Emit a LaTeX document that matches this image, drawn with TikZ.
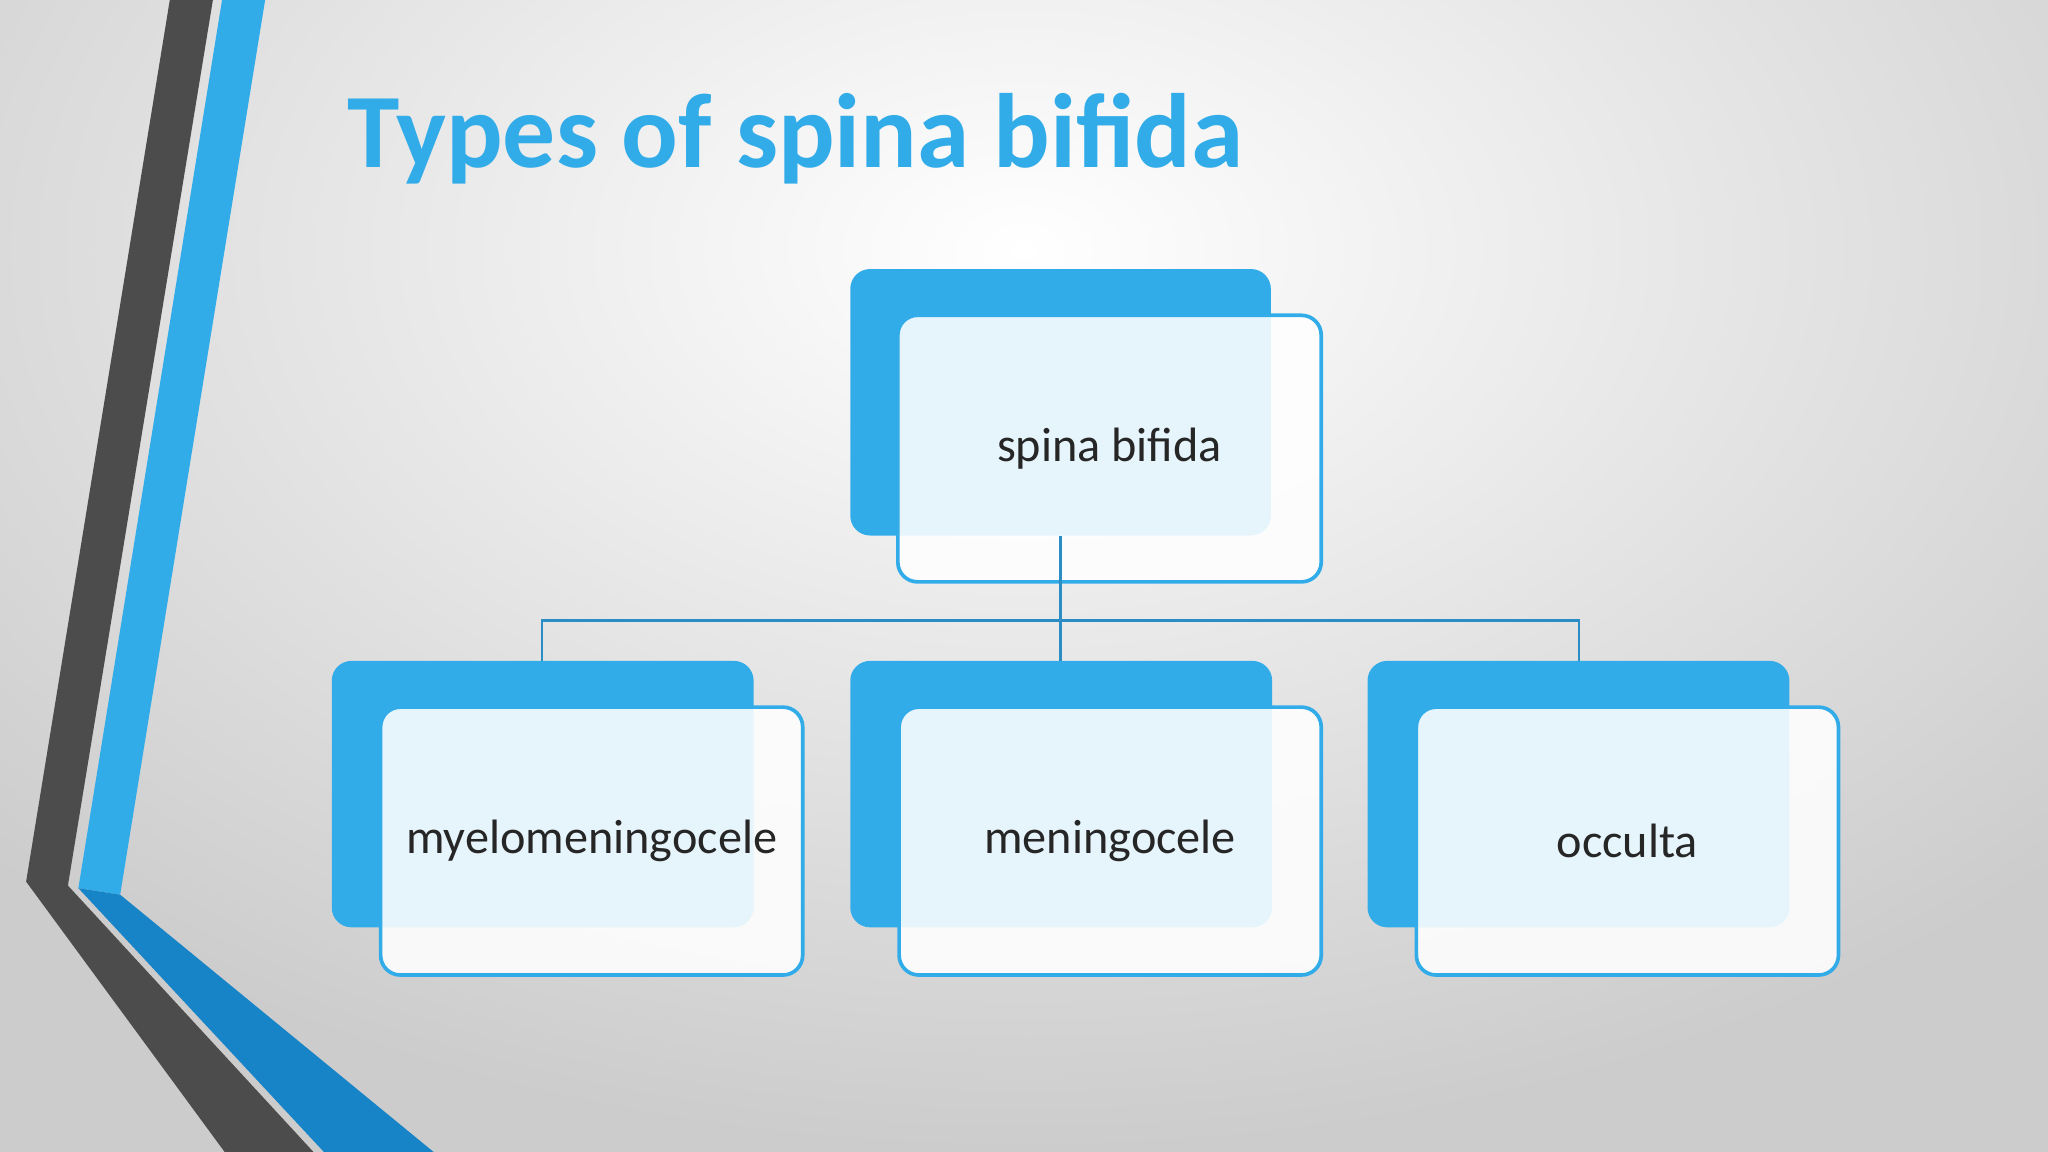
\documentclass[tikz,border=0pt]{standalone}
\usepackage{fontspec}
\setmainfont{Carlito}
\definecolor{bl}{HTML}{32ACE8}
\definecolor{dbl}{HTML}{1684C6}
\definecolor{ln}{HTML}{2C8CC4}
\begin{document}
\begin{tikzpicture}[x=0.01cm,y=-0.01cm,
 back/.style={fill=bl,rounded corners=4.3pt},
 front/.style={fill=white,fill opacity=0.88,draw=bl,line width=0.8pt,rounded corners=4.3pt,text opacity=1},
 lbl/.style={font=\fontsize{10.5pt}{12pt}\selectfont,text=black!85},
 conn/.style={draw=ln,line width=0.6pt}]
\useasboundingbox (0,0) rectangle (1568,882);
\shade[inner color=white,outer color=gray!40] (-300,-500) rectangle (1868,882);
% left decoration
\fill[black!70] (130,0)--(163,0)--(52,678)--(240,882)--(172,882)--(20,675)--cycle;
\fill[bl] (170,0)--(203,0)--(92,685)--(60,680)--cycle;
\fill[dbl] (60,680)--(92,685)--(332,882)--(248,882)--cycle;
\node[anchor=base west,inner sep=0,text=bl,font=\bfseries\fontsize{23pt}{28pt}\selectfont] (title) at (265,128) {Types of spina bifida};
% top box
\fill[back] (651,206) rectangle (973,410);
\node[front,minimum width=324*0.2845pt,minimum height=204*0.2845pt,anchor=north west,lbl] (top) at (686,240) {spina bifida};
% bottom boxes
\foreach \x/\n/\t in {254/a/myelomeningocele,651/b/meningocele,1047/c/occulta}{
 \fill[back] (\x,506) rectangle (\x+323,710);
 \node[front,minimum width=323*0.2845pt,minimum height=205*0.2845pt,anchor=north west,lbl] (\n) at (\x+36,540) {\t};
}
\coordinate (ta) at (415,506);
\coordinate (tb) at (812,506);
\coordinate (tc) at (1209,506);
\coordinate (src) at (812,410);
\draw[conn] (src)--(812,475);
\draw[conn] (ta)--(415,475)--(1209,475)--(tc);
\draw[conn] (812,475)--(tb);
\end{tikzpicture}
\end{document}
